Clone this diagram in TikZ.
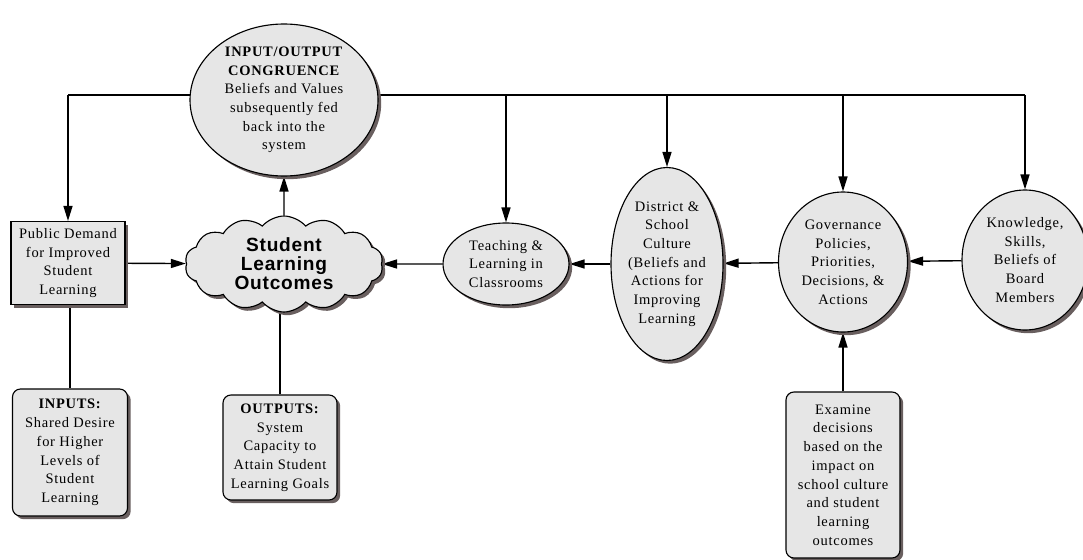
\documentclass[tikz,border=0pt]{standalone}
\usepackage{fontspec}
\setmainfont{Liberation Serif}[LetterSpace=5]
\newfontfamily\cloudfont{Liberation Sans}[LetterSpace=4]
\usepackage{tikz}
\usetikzlibrary{arrows.meta}
\usetikzlibrary{shapes.geometric}
\usetikzlibrary{shapes.symbols}
\usetikzlibrary{shadows}
\pgfdeclarelayer{edgelayer}
\pgfdeclarelayer{nodelayer}
\pgfsetlayers{edgelayer,nodelayer,main}
\definecolor{nodegray}{RGB}{230,230,230}
\definecolor{shadowgray}{RGB}{105,95,95}
\tikzstyle{base}=[draw=black, fill=nodegray, line width=0.8pt, align=center, inner sep=0pt, font=\fontsize{10.3}{13.3}\selectfont, drop shadow={shadow xshift=0.08cm, shadow yshift=-0.08cm, fill=shadowgray, opacity=1}]
\tikzstyle{bubble}=[style=base, ellipse]
\tikzstyle{block}=[style=base, rectangle]
\tikzstyle{card}=[style=base, rectangle, rounded corners=0.2cm]
\tikzstyle{puff}=[style=base, cloud, cloud puffs=14, cloud puff arc=100, aspect=2.2]
\tikzstyle{cloudtext}=[align=center, inner sep=0pt, font=\cloudfont\bfseries\fontsize{13.6}{13.4}\selectfont]
\tikzstyle{flow}=[-{Triangle[length=0.375cm, width=0.225cm]}, draw=black, line width=1pt]
\tikzstyle{link}=[draw=black, line width=1pt]

\begin{document}
\begin{tikzpicture}
	\useasboundingbox (0, 0) rectangle (27.075, -14);
	\begin{pgfonlayer}{nodelayer}
		\node [style=bubble, minimum width=4.7cm, minimum height=3.8cm, inner sep=-2pt] (0) at (7.1, -2.5) {\textbf{INPUT/OUTPUT}\\\textbf{CONGRUENCE}\\Beliefs and Values\\subsequently fed\\back into the\\system};
		\node [style=block, minimum width=2.85cm, minimum height=2.075cm] (1) at (1.7, -6.575) {Public Demand\\for Improved\\Student\\Learning};
		\node [style=puff, minimum width=4.95cm, minimum height=2.4cm] (2) at (7.1, -6.6) {};
		\node [style=cloudtext] (3) at (7.1, -6.6) {Student\\Learning\\Outcomes};
		\node [style=bubble, minimum width=3.15cm, minimum height=2.05cm] (4) at (12.65, -6.6) {Teaching \&\\Learning in\\Classrooms};
		\node [style=bubble, minimum width=2.8cm, minimum height=4.825cm] (5) at (16.675, -6.6) {District \&\\School\\Culture\\(Beliefs and\\Actions for\\Improving\\Learning};
		\node [style=bubble, minimum width=3.225cm, minimum height=3.5cm] (6) at (21.075, -6.55) {Governance\\Policies,\\Priorities,\\Decisions, \&\\Actions};
		\node [style=bubble, minimum width=3.15cm, minimum height=3.5cm] (7) at (25.625, -6.5) {Knowledge,\\Skills,\\Beliefs of\\Board\\Members};
		\node [style=card, minimum width=2.875cm, minimum height=3.175cm] (8) at (1.75, -11.3125) {\textbf{INPUTS:}\\Shared Desire\\for Higher\\Levels of\\Student\\Learning};
		\node [style=card, minimum width=2.85cm, minimum height=2.625cm] (9) at (7.0, -11.1875) {\textbf{OUTPUTS:}\\System\\Capacity to\\Attain Student\\Learning Goals};
		\node [style=card, minimum width=2.85cm, minimum height=4.15cm] (10) at (21.075, -11.875) {Examine\\decisions\\based on the\\impact on\\school culture\\and student\\learning\\outcomes};
	\end{pgfonlayer}
	\begin{pgfonlayer}{edgelayer}
		\coordinate (11) at (0, -2.375);
		\draw [style=link] (1 |- 11) to (7 |- 11);
		\draw [style=flow] (1 |- 11) to (1);
		\draw [style=flow] (4 |- 11) to (4);
		\draw [style=flow] (5 |- 11) to (5);
		\draw [style=flow] (6 |- 11) to (6);
		\draw [style=flow] (7 |- 11) to (7);
		\draw [style=flow] (2) to (0);
		\draw [style=flow] (1) to (2);
		\draw [style=flow] (4) to (2);
		\draw [style=flow] (5) to (4);
		\draw [style=flow] (6) to (5);
		\draw [style=flow] (7) to (6);
		\draw [style=flow] (10) to (6);
		\draw [style=link] (8) to (8 |- 1.south);
		\draw [style=link] (9) to (9 |- 2.south);
	\end{pgfonlayer}
\end{tikzpicture}
\end{document}
